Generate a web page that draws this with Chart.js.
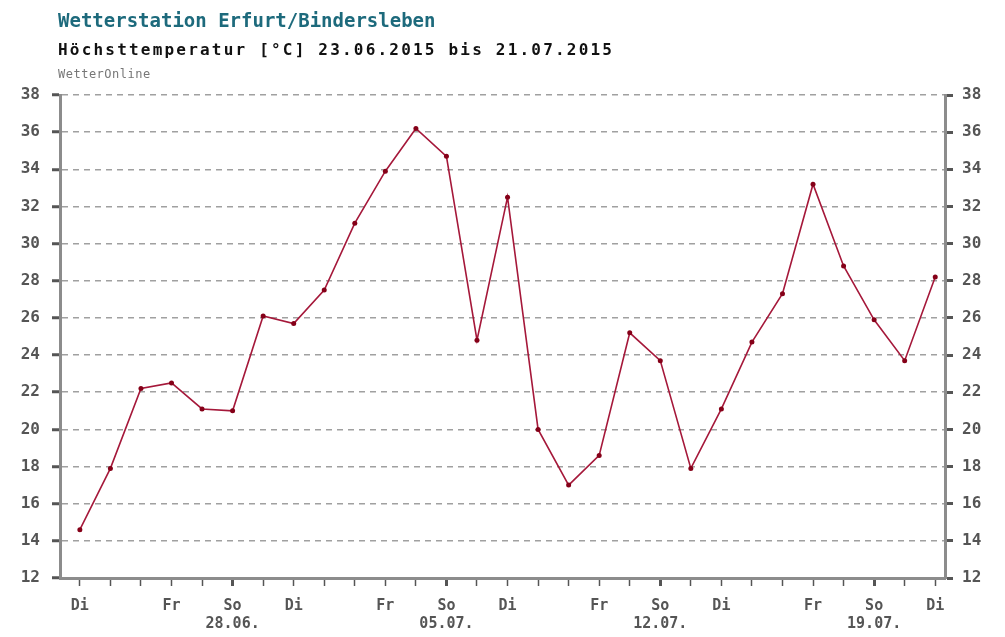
<!DOCTYPE html>
<html><head><meta charset="utf-8">
<script src="https://cdn.jsdelivr.net/npm/chart.js@4"></script>
<style>
html,body{margin:0;padding:0;background:#fff;}
#wrap{position:relative;width:1005px;height:637px;overflow:hidden;background:#fff;}
#c{position:absolute;left:0;top:0;}
.t{position:absolute;left:58px;white-space:nowrap;font-family:"DejaVu Sans Mono",monospace;line-height:1;}
#t1{top:11px;font-size:19px;font-weight:bold;color:#1d6a7c;}
#t2{top:42px;font-size:16px;font-weight:bold;letter-spacing:2.2px;color:#111;}
#t3{top:68px;font-size:12px;letter-spacing:0.5px;color:#777;}
</style></head><body>
<div id="wrap">
<canvas id="c" width="1005" height="637"></canvas>
<div class="t" id="t1">Wetterstation Erfurt/Bindersleben</div>
<div class="t" id="t2">Höchsttemperatur [°C] 23.06.2015 bis 21.07.2015</div>
<div class="t" id="t3">WetterOnline</div>
</div>
<script>
const dates = ['23.06.','24.06.','25.06.','26.06.','27.06.','28.06.','29.06.','30.06.','01.07.','02.07.','03.07.','04.07.','05.07.','06.07.','07.07.','08.07.','09.07.','10.07.','11.07.','12.07.','13.07.','14.07.','15.07.','16.07.','17.07.','18.07.','19.07.','20.07.','21.07.'];
const tempMax = [14.6,17.9,22.2,22.5,21.1,21.0,26.1,25.7,27.5,31.1,33.9,36.2,34.7,24.8,32.5,20.0,17.0,18.6,25.2,23.7,17.9,21.1,24.7,27.3,33.2,28.8,25.9,23.7,28.2];
const xTickDay = ['Di','','','Fr','','So','','Di','','','Fr','','So','','Di','','','Fr','','So','','Di','','','Fr','','So','','Di'];
const xTickDate = ['','','','','','28.06.','','','','','','','05.07.','','','','','','','12.07.','','','','','','','19.07.','',''];
const yMin = 12, yMax = 38, yStep = 2;

const axisGray = '#8c8c8c';
const labelGray = '#555';
const tickFontY = {family:'DejaVu Sans Mono', size:16, weight:'bold'};
const tickFontX = {family:'DejaVu Sans Mono', size:15, weight:'bold'};

new Chart(document.getElementById('c').getContext('2d'), {
  type: 'line',
  data: {
    datasets: [{
      data: tempMax.map((v, i) => ({x: i, y: v})),
      borderColor: '#a5183a',
      borderWidth: 1.6,
      pointRadius: 2.5,
      pointBackgroundColor: '#850018',
      pointBorderColor: '#850018',
      pointBorderWidth: 0,
      tension: 0,
      fill: false
    }]
  },
  options: {
    responsive: false,
    animation: false,
    layout: {padding: {top: 95, left: 0, right: 0, bottom: 0}},
    plugins: {legend: {display: false}, tooltip: {enabled: false}},
    scales: {
      x: {
        type: 'linear',
        min: -0.65,
        max: 28.32,
        afterBuildTicks: s => { s.ticks = dates.map((d, i) => ({value: i})); },
        afterFit: s => { s.height = 59; },
        ticks: {
          autoSkip: false, maxRotation: 0, minRotation: 0, padding: 11,
          color: labelGray, font: tickFontX,
          callback: (v) => { const d = xTickDay[v] || ''; const t = xTickDate[v]; return t ? [d, t] : d; }
        },
        grid: {
          drawOnChartArea: false, drawTicks: true, tickLength: 8,
          tickWidth: c => (c.tick && xTickDate[c.tick.value]) ? 3 : 1.5,
          tickColor: '#555'
        },
        border: {display: true, color: axisGray, width: 3}
      },
      y: {
        position: 'left', min: yMin, max: yMax,
        afterFit: s => { s.width = 60; },
        ticks: {stepSize: yStep, padding: 12, color: labelGray, font: tickFontY},
        grid: {color: '#a0a0a0', lineWidth: 1.5, tickLength: 8, tickWidth: 3, tickColor: '#555', tickBorderDash: []},
        border: {display: true, color: axisGray, width: 3, dash: [6, 5]}
      },
      y2: {
        position: 'right', min: yMin, max: yMax,
        afterFit: s => { s.width = 60; },
        ticks: {stepSize: yStep, padding: 9, color: labelGray, font: tickFontY},
        grid: {drawOnChartArea: false, tickLength: 8, tickWidth: 3, tickColor: '#555'},
        border: {display: true, color: axisGray, width: 3}
      }
    }
  }
});
</script>
</body></html>
